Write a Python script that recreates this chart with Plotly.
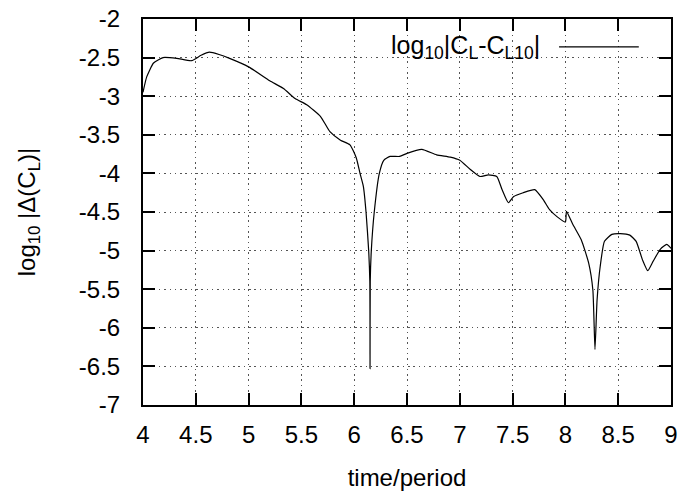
import plotly.graph_objects as go

time_period = [4.0, 4.035, 4.10, 4.19, 4.32, 4.46, 4.55, 4.63, 4.72, 4.82, 5.0, 5.2, 5.33, 5.44,
               5.55, 5.68, 5.77, 5.87, 5.96, 6.02, 6.055, 6.087, 6.112, 6.137, 6.148, 6.15, 6.152,
               6.162, 6.19, 6.238, 6.28, 6.34, 6.43, 6.50, 6.64, 6.78, 6.91, 7.0, 7.1, 7.19, 7.27,
               7.35, 7.40, 7.46, 7.51, 7.60, 7.71, 7.79, 7.85, 7.92, 8.0, 8.01, 8.07, 8.15, 8.22,
               8.26, 8.28, 8.30, 8.33, 8.37, 8.44, 8.52, 8.61, 8.67, 8.73, 8.78, 8.83, 8.90, 8.96, 9.0]
log_delta_cl = [-2.95, -2.75, -2.57, -2.50, -2.51, -2.54, -2.47, -2.43, -2.46, -2.51, -2.62, -2.80,
                -2.90, -3.03, -3.11, -3.26, -3.46, -3.57, -3.63, -3.80, -4.0, -4.17, -4.5, -5.0,
                -5.4, -6.53, -5.4, -5.0, -4.5, -4.0, -3.83, -3.78, -3.78, -3.74, -3.69, -3.76,
                -3.79, -3.83, -3.95, -4.04, -4.02, -4.04, -4.21, -4.38, -4.30, -4.25, -4.21, -4.34,
                -4.47, -4.56, -4.63, -4.49, -4.66, -4.86, -5.16, -5.51, -6.28, -5.64, -5.20, -4.88,
                -4.79, -4.78, -4.80, -4.88, -5.12, -5.26, -5.14, -4.98, -4.92, -4.97]

x_ticks = [4, 4.5, 5, 5.5, 6, 6.5, 7, 7.5, 8, 8.5, 9]
x_tick_labels = ["4", "4.5", "5", "5.5", "6", "6.5", "7", "7.5", "8", "8.5", "9"]
y_ticks = [-2, -2.5, -3, -3.5, -4, -4.5, -5, -5.5, -6, -6.5, -7]
y_tick_labels = ["-2", "-2.5", "-3", "-3.5", "-4", "-4.5", "-5", "-5.5", "-6", "-6.5", "-7"]

FONT = "Liberation Sans, Arial, sans-serif"
FS = 24

fig = go.Figure()
fig.add_trace(go.Scatter(x=time_period, y=log_delta_cl, mode="lines",
                         line=dict(color="black", width=1.2, shape="spline", smoothing=0.5),
                         showlegend=False, name="log10|CL-CL10|"))

axis_common = dict(
    showline=True, linecolor="black", linewidth=2, mirror="ticks",
    ticks="inside", ticklen=12, tickwidth=2, tickcolor="black",
    showgrid=True, gridcolor="#555555", griddash="1.5px,3.8px", gridwidth=1.3,
    zeroline=False, automargin=False,
    tickfont=dict(family=FONT, size=FS, color="black"),
)

fig.update_xaxes(range=[4, 9], tickvals=x_ticks, ticktext=x_tick_labels, ticklabelstandoff=7,
                 title=dict(text="time/period", font=dict(family=FONT, size=FS, color="black"), standoff=22),
                 **axis_common)
fig.update_yaxes(range=[-7, -2], tickvals=y_ticks, ticktext=y_tick_labels, ticklabelstandoff=16,
                 title=dict(text="log<sub>10</sub> |Δ(C<sub>L</sub>)|",
                            font=dict(family=FONT, size=FS, color="black"), standoff=36),
                 **axis_common)

fig.add_annotation(xref="paper", yref="paper", x=0.756, y=0.928, xanchor="right", yanchor="middle",
                   text="log<sub>10</sub>|C<sub>L</sub>-C<sub>L10</sub>|",
                   showarrow=False, font=dict(family=FONT, size=FS + 1, color="black"))
fig.add_shape(type="line", xref="paper", yref="paper", x0=0.788, x1=0.939, y0=0.928, y1=0.928,
              line=dict(color="black", width=1.2))

fig.update_layout(
    width=685, height=493,
    margin=dict(l=143, r=14, t=19, b=88),
    paper_bgcolor="white", plot_bgcolor="white",
    font=dict(family=FONT, color="black"),
)

fig.write_html("out.html")
